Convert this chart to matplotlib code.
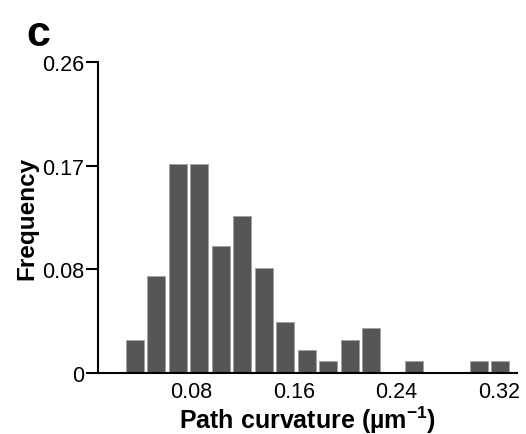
import numpy as np
import matplotlib
matplotlib.use("Agg")
import matplotlib.pyplot as plt

plt.rcParams['font.family'] = ['Liberation Sans', 'DejaVu Sans']
plt.rcParams['mathtext.fontset'] = 'custom'
plt.rcParams['mathtext.rm'] = 'Liberation Sans'
plt.rcParams['mathtext.bf'] = 'Liberation Sans:bold'

# histogram bins (curvature, um^-1) and frequencies
bin_start = 0.028
bin_width = 0.01673
freq = [0.028, 0.081, 0.175, 0.175, 0.106, 0.131, 0.088, 0.043, 0.019,
        0.010, 0.028, 0.038, 0.0, 0.010, 0.0, 0.0, 0.010, 0.010]
xticks = [0.08, 0.16, 0.24, 0.32]
xtick_labels = ['0.08', '0.16', '0.24', '0.32']
ytick_labels = ['0', '0.08', '0.17', '0.26']

edges = bin_start + bin_width * np.arange(len(freq))
centers = edges + bin_width / 2

fig = plt.figure(figsize=(5.26, 4.35), dpi=100)
ax = fig.add_axes([0.187, 0.140, 0.796, 0.715])

ax.bar(centers, freq, width=bin_width * 0.84, color='#565656',
       edgecolor='#a0a0a0', linewidth=0.6)

ax.set_xlim(0.008, 0.3337)
ax.set_ylim(0, 0.26)
ax.set_xticks(xticks)
ax.set_xticklabels(xtick_labels)
ax.set_yticks(np.linspace(0, 0.26, 4))
ax.set_yticklabels(ytick_labels)

for s in ['top', 'right']:
    ax.spines[s].set_visible(False)
for s in ['left', 'bottom']:
    ax.spines[s].set_linewidth(1.5)

ax.tick_params(axis='y', length=9, width=1.5, pad=1, labelsize=15.5)
ax.tick_params(axis='x', length=0, pad=6, labelsize=15.5)

ax.set_xlabel(r'Path curvature (µm$^{\mathbf{-1}}$)', fontsize=18,
              fontweight='bold', labelpad=1)
ax.set_ylabel('Frequency', fontsize=17.5, fontweight='bold', labelpad=3)

fig.text(0.05, 0.965, 'c', fontsize=31, fontweight='bold', va='top')

fig.savefig('out.png', dpi=100)
